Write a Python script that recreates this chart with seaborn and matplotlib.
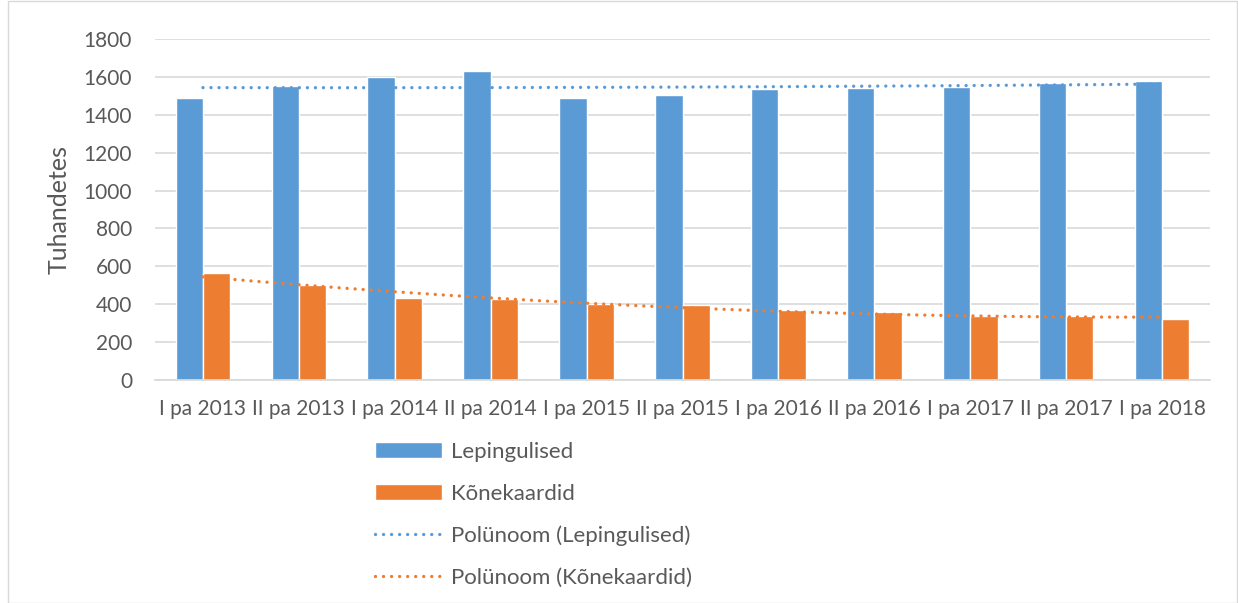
import numpy as np
import pandas as pd
import matplotlib
matplotlib.use("Agg")
import matplotlib.pyplot as plt
from matplotlib.patches import Patch, Rectangle
from matplotlib.lines import Line2D
import seaborn as sns

# ---------------------------------
# Data
# ---------------------------------
periods = ["I pa 2013", "II pa 2013", "I pa 2014", "II pa 2014", "I pa 2015",
           "II pa 2015", "I pa 2016", "II pa 2016", "I pa 2017", "II pa 2017",
           "I pa 2018"]
lepingulised = [1489, 1552, 1599, 1633, 1491, 1506, 1535, 1540, 1549, 1567, 1577]
konekaardid = [563, 504, 435, 428, 399, 395, 371, 358, 337, 339, 320]

series_names = ["Lepingulised", "Kõnekaardid"]
colors = ["#5B9BD5", "#ED7D31"]
text_color = "#595959"
dotted = (0, (0.01, 2.4))

df = pd.DataFrame({
    "period": periods * 2,
    "series": [series_names[0]] * len(periods) + [series_names[1]] * len(periods),
    "value": lepingulised + konekaardid,
})

sns.set_theme(style="white")
plt.rcParams["font.family"] = ["Lato", "DejaVu Sans"]

fig = plt.figure(figsize=(12.38, 6.03), dpi=100)
ax = fig.add_axes([0.1252, 0.3698, 0.8522, 0.5655])

sns.barplot(data=df, x="period", y="value", hue="series", palette=colors,
            width=0.57, saturation=1, ax=ax, legend=False)

# 2nd order polynomial trendlines (like Excel "Polünoom")
xs = np.arange(len(periods))
for vals, col in zip([lepingulised, konekaardid], colors):
    coef = np.polyfit(xs, vals, 2)
    xf = np.linspace(xs[0], xs[-1], 200)
    ax.plot(xf, np.polyval(coef, xf), color=col, linestyle=dotted,
            linewidth=2.4, dash_capstyle="round")

ax.set_ylim(0, 1800)
ax.set_xlim(-0.5, len(periods) - 0.5)
ax.set_yticks(range(0, 1801, 200))
ax.yaxis.grid(True, color="#D9D9D9", linewidth=1.2)
ax.set_axisbelow(True)
for s in ["top", "right", "left"]:
    ax.spines[s].set_visible(False)
ax.spines["bottom"].set_color("#D9D9D9")
ax.tick_params(axis="both", colors=text_color, labelsize=15, length=0)
ax.tick_params(axis="y", pad=16.5)
ax.tick_params(axis="x", pad=14)
ax.set_xlabel("")
ax.set_ylabel("Tuhandetes", fontsize=18, color=text_color, labelpad=9)

handles = [
    Patch(facecolor=colors[0], label="Lepingulised"),
    Patch(facecolor=colors[1], label="Kõnekaardid"),
    Line2D([0], [0], color=colors[0], linestyle=dotted, linewidth=2.4,
           dash_capstyle="round", label="Polünoom (Lepingulised)"),
    Line2D([0], [0], color=colors[1], linestyle=dotted, linewidth=2.4,
           dash_capstyle="round", label="Polünoom (Kõnekaardid)"),
]
leg = fig.legend(handles=handles, loc="upper left",
                 bbox_to_anchor=(375 / 1238, 1 - 442 / 603),
                 frameon=False, fontsize=16, handlelength=3.0,
                 handleheight=0.75, labelspacing=0.98, handletextpad=0.4,
                 borderpad=0, borderaxespad=0)
for t in leg.get_texts():
    t.set_color(text_color)

fig.patches.append(Rectangle((8 / 1238, 0), 1 - 8 / 1238 - 0.001, 0.999,
                             transform=fig.transFigure, fill=False,
                             edgecolor="#D9D9D9", linewidth=1))

fig.savefig("out.png", dpi=100)
